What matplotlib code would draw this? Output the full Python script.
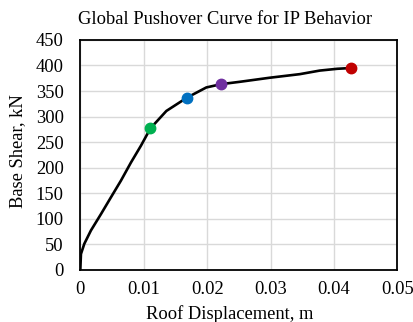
import matplotlib
matplotlib.use("Agg")
import matplotlib.pyplot as plt

# pushover curve (roof displacement m, base shear kN)
disp = [0, 0.0001, 0.00063, 0.00167, 0.00325, 0.00483, 0.0064, 0.00798, 0.00956, 0.01106,
        0.01357, 0.01681, 0.01987, 0.02224, 0.02513, 0.02986, 0.0346, 0.03775, 0.0405, 0.04264]
shear = [0, 31, 51, 77, 109, 142, 174.5, 210, 243, 277,
         311, 337, 357, 363.5, 368, 376, 383, 390, 393.5, 395]

# performance points
pt_disp = [0.01106, 0.01681, 0.02224, 0.04264]
pt_shear = [277, 337, 363.5, 395]
pt_colors = ["#00b050", "#0070c0", "#7030a0", "#c00000"]

plt.rcParams["font.family"] = ["Liberation Serif", "DejaVu Serif"]

fig = plt.figure(figsize=(4.14, 3.22), dpi=100)
ax = fig.add_axes([0.194, 0.162, 0.766, 0.714])

ax.plot(disp, shear, color="black", lw=1.9, zorder=3,
        solid_capstyle="round", solid_joinstyle="round")
for x, y, c in zip(pt_disp, pt_shear, pt_colors):
    ax.plot(x, y, "o", color=c, markersize=7.5, zorder=4)

ax.set_xlim(0, 0.05)
ax.set_ylim(0, 450)
ax.set_xticks([0, 0.01, 0.02, 0.03, 0.04, 0.05])
ax.set_xticklabels(["0", "0.01", "0.02", "0.03", "0.04", "0.05"])
ax.set_yticks(range(0, 451, 50))
ax.grid(True, color="#d9d9d9", lw=1)
ax.set_axisbelow(True)
for s in ax.spines.values():
    s.set_color("black")
    s.set_linewidth(1.3)
ax.tick_params(length=0, labelsize=13.3)
ax.tick_params(axis="x", pad=8)
ax.tick_params(axis="y", pad=12)

# titles placed like the Excel original (not centred on the plot area)
fig.text(225 / 414, 1 - 19.5 / 322, "Global Pushover Curve for IP Behavior",
         fontsize=13.3, ha="center", va="center")
fig.text(230 / 414, 1 - 314 / 322, "Roof Displacement, m",
         fontsize=13.3, ha="center", va="center")
fig.text(17.5 / 414, 1 - 151.5 / 322, "Base Shear, kN",
         fontsize=13.3, ha="center", va="center", rotation=90)

fig.savefig("out.png", dpi=100)
